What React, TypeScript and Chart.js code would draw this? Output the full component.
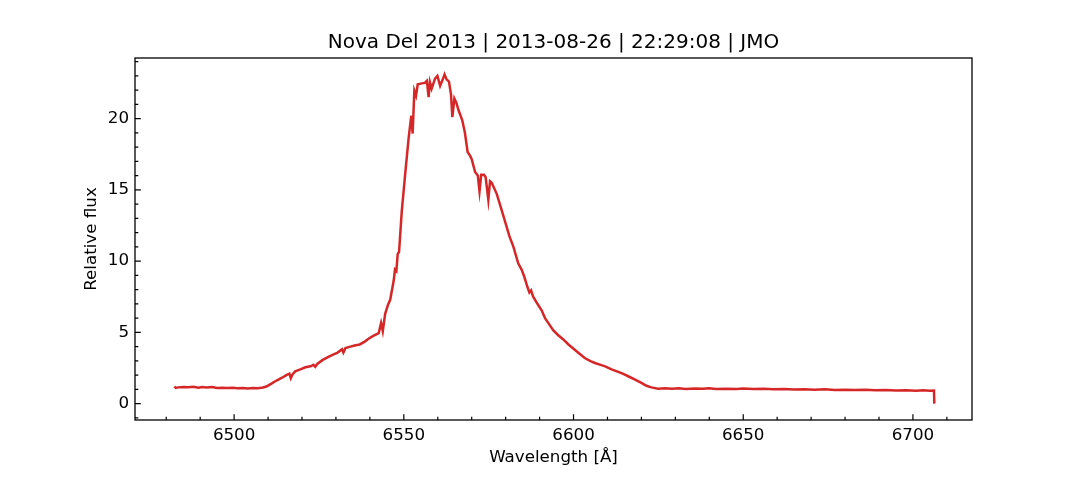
import { useEffect, useRef } from 'react'
import { Chart, registerables } from 'chart.js'
Chart.register(...registerables)

// wavelength (Å) and relative flux
const wavelength = [
    6482.4, 6482.8, 6483.5, 6485, 6486.5, 6488, 6489.5, 6490.5, 6492, 6493.5,
    6495, 6496.5, 6498, 6499.5, 6501, 6502.5, 6504, 6505.5, 6507, 6508.5,
    6509.5, 6511, 6512.5, 6514, 6515.5, 6516.3, 6516.7, 6517.2, 6518, 6519.5,
    6521, 6522.5, 6523.4, 6523.9, 6524.5, 6526, 6527.5, 6529, 6530.5, 6531.8,
    6532.2, 6532.8, 6534, 6535.5, 6537, 6538.5, 6539.6, 6541, 6542.6, 6543.3,
    6543.8, 6544.5, 6545.3, 6546, 6547, 6547.4, 6547.8, 6548.2, 6548.6, 6549.4,
    6550.4, 6551.4, 6552.2, 6552.6, 6553.1, 6553.6, 6554.1, 6555.3, 6556.2, 6556.8,
    6557.3, 6557.7, 6558.2, 6559.2, 6559.9, 6560.7, 6561.4, 6562, 6562.6, 6563.3,
    6563.9, 6564.3, 6564.9, 6565.5, 6566.1, 6567.2, 6568, 6568.8, 6569.5, 6570,
    6571, 6571.8, 6572.3, 6572.8, 6573.6, 6574.1, 6574.9, 6575.4, 6575.9, 6577.4,
    6578.8, 6580.3, 6581.1, 6582.3, 6583.7, 6584.7, 6585.5, 6586.4, 6587, 6587.5,
    6588.1, 6589.5, 6590.6, 6591.6, 6592.6, 6594, 6595.5, 6597, 6598.5, 6600,
    6601.5, 6603.3, 6605, 6606.3, 6608, 6609.5, 6611.2, 6613, 6614.5, 6616.1,
    6618, 6620, 6621.5, 6622.9, 6624.9, 6627, 6629, 6631, 6633, 6635.7,
    6638, 6640, 6642, 6645, 6648, 6650, 6653, 6656, 6659, 6662,
    6665, 6668, 6671, 6674, 6677, 6680, 6683, 6686, 6689, 6692,
    6695, 6698, 6701, 6703, 6705, 6706.2, 6706.3,
]
const flux = [
    1.20, 1.10, 1.14, 1.17, 1.15, 1.18, 1.12, 1.16, 1.13, 1.17,
    1.10, 1.12, 1.09, 1.11, 1.07, 1.09, 1.06, 1.10, 1.08, 1.13,
    1.20, 1.40, 1.62, 1.80, 2.02, 2.10, 1.78, 2.05, 2.26, 2.40,
    2.55, 2.62, 2.72, 2.58, 2.78, 3.05, 3.25, 3.42, 3.58, 3.82,
    3.58, 3.90, 3.98, 4.08, 4.15, 4.35, 4.55, 4.75, 4.95, 5.65,
    5.08, 6.30, 6.90, 7.30, 8.60, 9.40, 9.30, 10.5, 10.65, 13.5,
    16.1, 18.6, 20.2, 18.95, 21.95, 21.6, 22.4, 22.47, 22.5, 22.65,
    21.5, 22.55, 22.1, 22.8, 23.0, 22.3, 22.7, 23.1, 22.75, 22.6,
    21.7, 20.1, 21.4, 21.1, 20.6, 19.9, 19.0, 17.65, 17.4, 17.15,
    16.25, 16.0, 14.9, 16.05, 16.05, 15.9, 14.3, 15.6, 15.5, 14.7,
    13.6, 12.4, 11.75, 11.0, 9.85, 9.4, 8.9, 8.2, 7.8, 7.95,
    7.5, 6.95, 6.55, 6.0, 5.65, 5.15, 4.8, 4.5, 4.15, 3.85,
    3.55, 3.2, 2.98, 2.85, 2.72, 2.6, 2.4, 2.25, 2.1, 1.92,
    1.7, 1.45, 1.25, 1.14, 1.05, 1.08, 1.04, 1.07, 1.03, 1.06,
    1.04, 1.07, 1.02, 1.05, 1.03, 1.06, 1.02, 1.05, 1.01, 1.03,
    0.99, 1.01, 0.97, 1.0, 0.96, 0.98, 0.95, 0.97, 0.94, 0.95,
    0.92, 0.93, 0.90, 0.93, 0.91, 0.92, 0.0,
]

const xMajor = [6500, 6550, 6600, 6650, 6700]
const xMinor = [6480, 6490, 6510, 6520, 6530, 6540, 6560, 6570, 6580, 6590, 6610, 6620, 6630, 6640, 6660, 6670, 6680, 6690, 6710]
const yMajor = [0, 5, 10, 15, 20]
const yMinor = [-1, 1, 2, 3, 4, 6, 7, 8, 9, 11, 12, 13, 14, 16, 17, 18, 19, 21, 22, 23, 24]

const TITLE = 'Nova Del 2013 | 2013-08-26 | 22:29:08 | JMO'
const FONT = '"DejaVu Sans", Verdana, sans-serif'

// title, spines + inward tick marks, matplotlib style
const framePlugin = {
    id: 'frame',
    afterDraw(chart: any) {
        const { ctx, chartArea: a, scales } = chart
        const xs = scales.x, ys = scales.y
        ctx.save()
        ctx.strokeStyle = '#000'
        ctx.lineWidth = 1.2
        ctx.beginPath()
        xMajor.forEach(v => { const px = xs.getPixelForValue(v); ctx.moveTo(px, a.bottom); ctx.lineTo(px, a.bottom - 5.8) })
        xMinor.forEach(v => { const px = xs.getPixelForValue(v); ctx.moveTo(px, a.bottom); ctx.lineTo(px, a.bottom - 3.3) })
        yMajor.forEach(v => { const py = ys.getPixelForValue(v); ctx.moveTo(a.left, py); ctx.lineTo(a.left + 5.8, py) })
        yMinor.forEach(v => { const py = ys.getPixelForValue(v); ctx.moveTo(a.left, py); ctx.lineTo(a.left + 3.3, py) })
        ctx.stroke()
        ctx.lineWidth = 1.3
        ctx.strokeRect(a.left, a.top, a.right - a.left, a.bottom - a.top)
        ctx.fillStyle = '#000'
        ctx.font = `20px ${FONT}`
        ctx.textAlign = 'center'
        ctx.textBaseline = 'alphabetic'
        ctx.fillText(TITLE, (a.left + a.right) / 2, 48)
        ctx.restore()
    },
}

export default function App() {
    const canvasRef = useRef<HTMLCanvasElement>(null)
    const chartRef = useRef<Chart | null>(null)

    useEffect(() => {
        document.body.style.margin = '0'
        if (!canvasRef.current) return
        const ctx = canvasRef.current.getContext('2d')!
        chartRef.current?.destroy()
        chartRef.current = new Chart(ctx, {
            type: 'line',
            data: {
                datasets: [{
                    data: wavelength.map((w, i) => ({ x: w, y: flux[i] })),
                    borderColor: '#d62728',
                    borderWidth: 2.5,
                    pointRadius: 0,
                    tension: 0,
                    fill: false,
                }],
            },
            options: {
                animation: false,
                responsive: true, maintainAspectRatio: false,
                layout: { padding: { left: 0, right: 108, top: 58, bottom: 0 } },
                plugins: {
                    legend: { display: false },
                    tooltip: { enabled: false },
                    title: { display: false },
                },
                scales: {
                    x: {
                        type: 'linear',
                        min: 6470.8, max: 6717.4,
                        grid: { display: false, drawTicks: false },
                        border: { display: false },
                        afterBuildTicks: (s: any) => { s.ticks = xMajor.map(v => ({ value: v })) },
                        afterFit: (s: any) => { s.height = 60 },
                        ticks: { color: '#000', font: { family: FONT, size: 16.7 }, padding: 6, maxRotation: 0, autoSkip: false, callback: (v: any) => String(v) },
                        title: { display: true, text: 'Wavelength [Å]', color: '#000', font: { family: FONT, size: 16.7 }, padding: { top: 0, bottom: 12 } },
                    },
                    y: {
                        min: -1.15, max: 24.25,
                        grid: { display: false, drawTicks: false },
                        border: { display: false },
                        afterBuildTicks: (s: any) => { s.ticks = yMajor.map(v => ({ value: v })) },
                        afterFit: (s: any) => { s.width = 135 },
                        ticks: { color: '#000', font: { family: FONT, size: 16.7 }, padding: 6, autoSkip: false, callback: (v: any) => String(v) },
                        title: { display: true, text: 'Relative flux', color: '#000', font: { family: FONT, size: 16.7 }, padding: { top: 82, bottom: 0 } },
                    },
                },
            },
            plugins: [framePlugin],
        })
        return () => chartRef.current?.destroy()
    }, [])

    return (
        <div style={{ width: 1080, height: 480, position: 'relative', background: '#fff' }}>
            <canvas ref={canvasRef} />
        </div>
    )
}
